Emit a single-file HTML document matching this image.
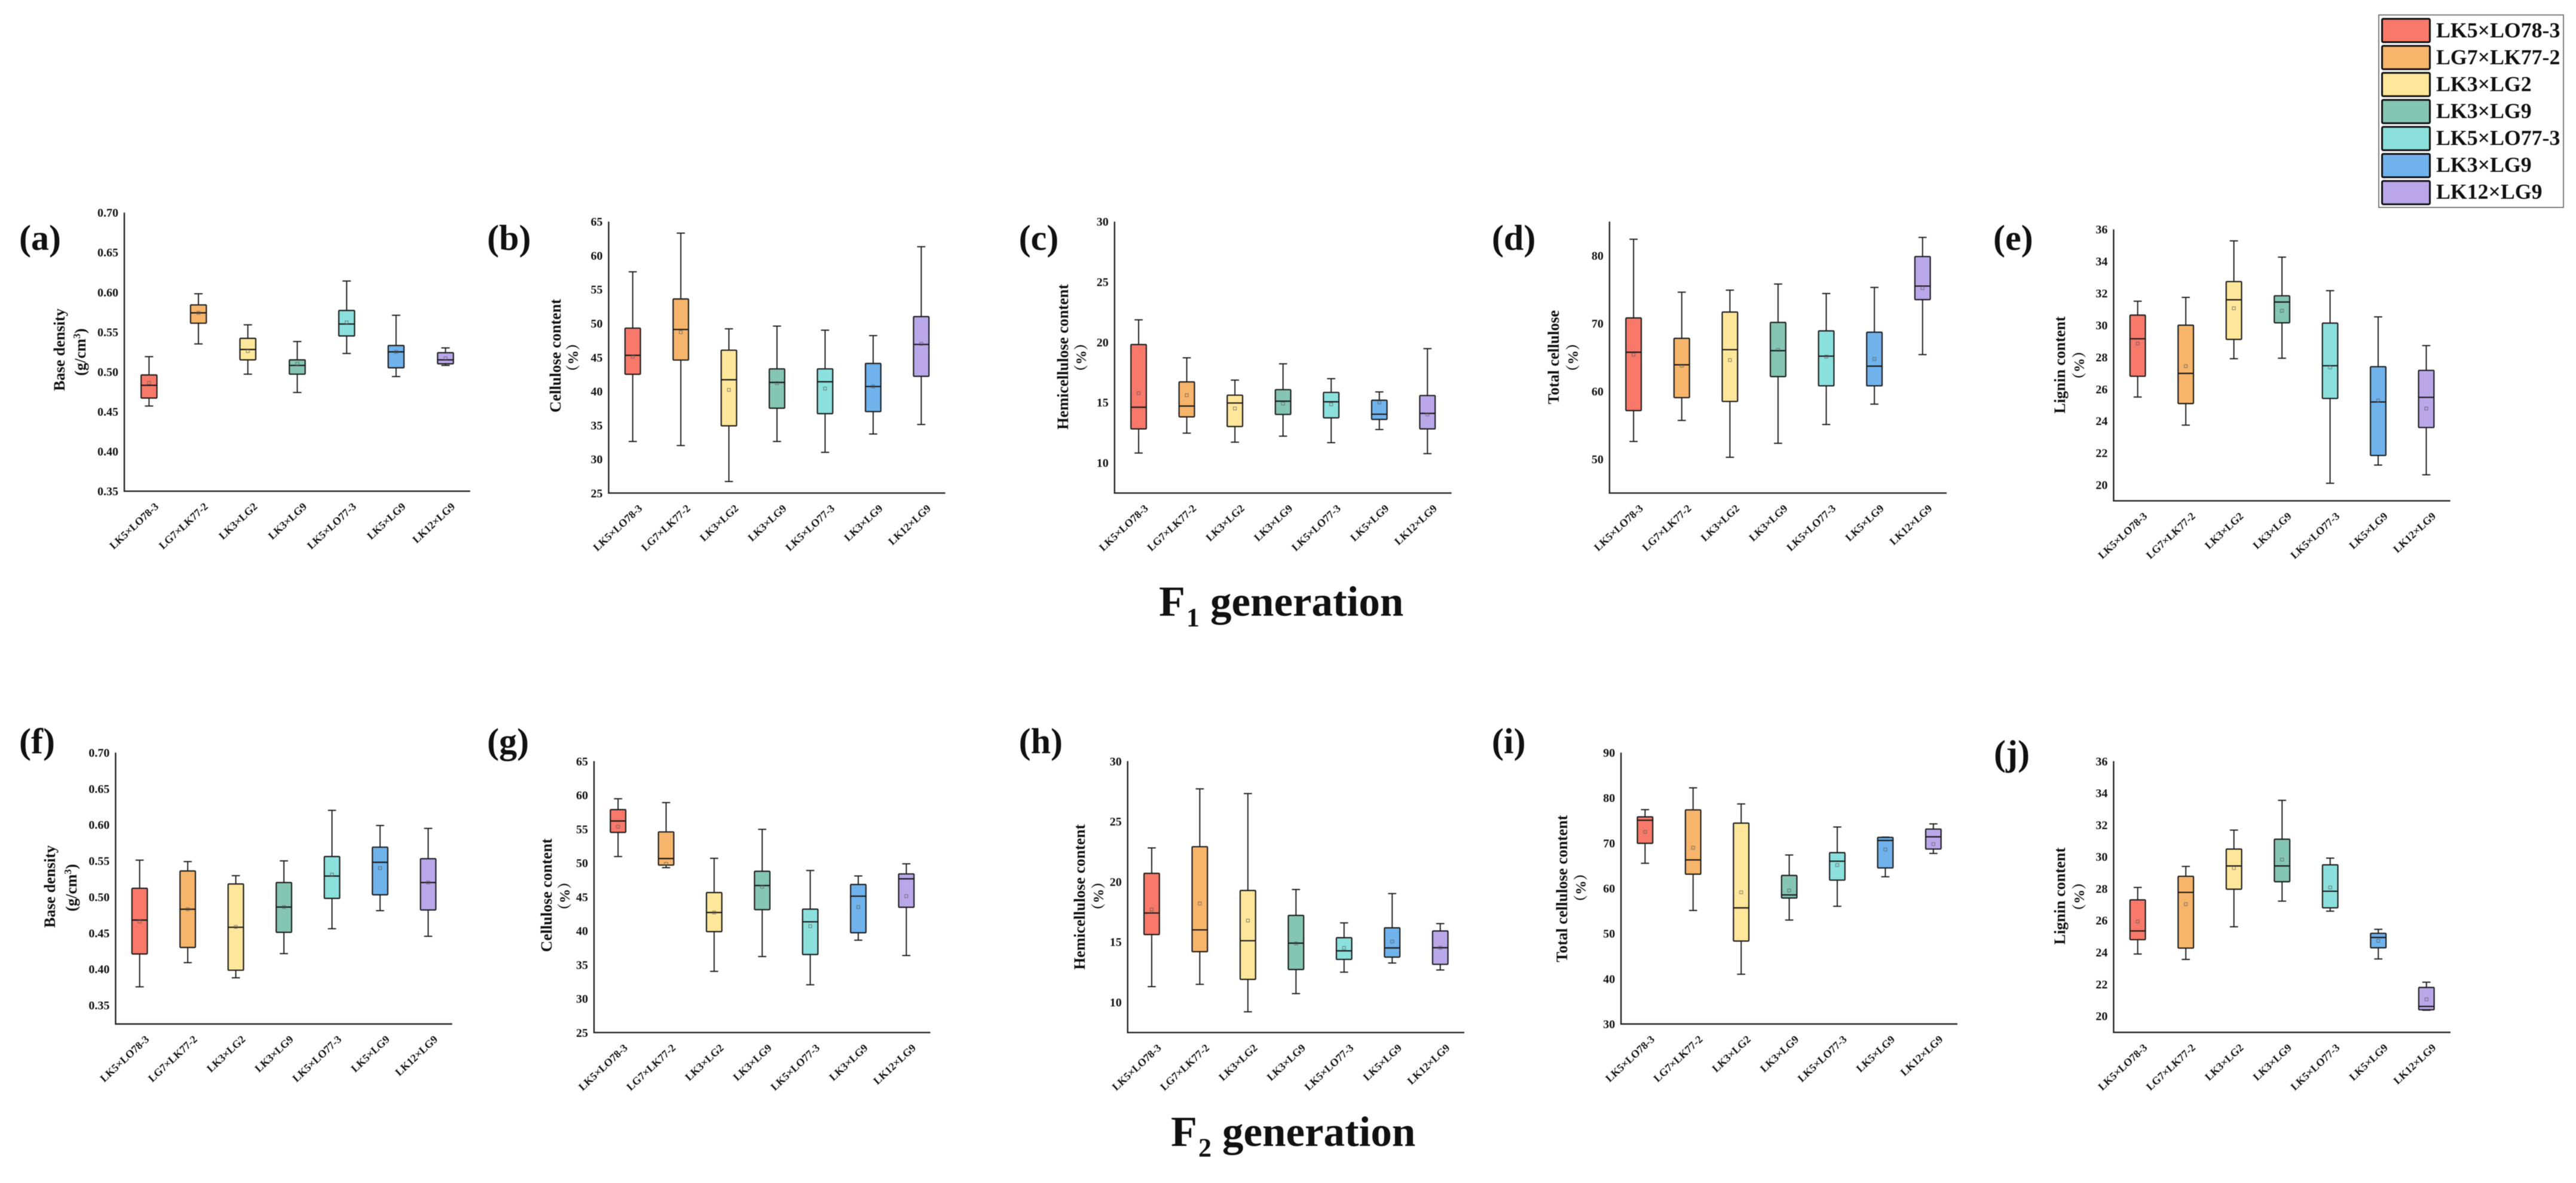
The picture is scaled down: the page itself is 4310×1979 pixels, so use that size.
<!DOCTYPE html>
<html lang="en">
<head>
<meta charset="utf-8">
<title>Wood property box plots of F1 and F2 generations</title>
<style>
html,body{margin:0;padding:0;background:#fff;}
svg{display:block;filter:blur(0.6px);}
text{font-family:"Liberation Serif","Noto Serif CJK SC",serif;font-weight:bold;fill:#111;}
</style>
</head>
<body>
<svg id="figure" xmlns="http://www.w3.org/2000/svg" width="4310" height="1979" viewBox="0 0 4310 1979">
  <rect x="0" y="0" width="4310" height="1979" fill="#ffffff"/>

  <text y="1030" font-size="72"><tspan x="1939">F</tspan><tspan x="1985" y="1047.5" font-size="44">1</tspan><tspan x="2025" y="1030" font-size="71">generation</tspan></text>
  <text y="1917" font-size="72"><tspan x="1959">F</tspan><tspan x="2005" y="1934.5" font-size="44">2</tspan><tspan x="2045" y="1917" font-size="71">generation</tspan></text>

  <g>
    <rect x="3980" y="25" width="309" height="322" fill="#fff" stroke="#555" stroke-width="1.5"/>
    <g><rect x="3985.5" y="31.5" width="80" height="39" rx="2" fill="#F8796A" stroke="#111" stroke-width="3"/><text x="4076" y="62.5" font-size="35.8">LK5×LO78-3</text></g>
    <g><rect x="3985.5" y="76.7" width="80" height="39" rx="2" fill="#F6B56A" stroke="#111" stroke-width="3"/><text x="4076" y="107.5" font-size="35.8">LG7×LK77-2</text></g>
    <g><rect x="3985.5" y="121.9" width="80" height="39" rx="2" fill="#FEE79A" stroke="#111" stroke-width="3"/><text x="4076" y="152.5" font-size="35.8">LK3×LG2</text></g>
    <g><rect x="3985.5" y="167.1" width="80" height="39" rx="2" fill="#84C6B3" stroke="#111" stroke-width="3"/><text x="4076" y="197.5" font-size="35.8">LK3×LG9</text></g>
    <g><rect x="3985.5" y="212.3" width="80" height="39" rx="2" fill="#8BDFDD" stroke="#111" stroke-width="3"/><text x="4076" y="242.5" font-size="35.8">LK5×LO77-3</text></g>
    <g><rect x="3985.5" y="257.5" width="80" height="39" rx="2" fill="#6FB2EC" stroke="#111" stroke-width="3"/><text x="4076" y="287.5" font-size="35.8">LK3×LG9</text></g>
    <g><rect x="3985.5" y="302.7" width="80" height="39" rx="2" fill="#BAA7EA" stroke="#111" stroke-width="3"/><text x="4076" y="332.5" font-size="35.8">LK12×LG9</text></g>
  </g>
</svg>

<script>
// Categories
const catsLK5 = ['LK5×LO78-3','LG7×LK77-2','LK3×LG2','LK3×LG9','LK5×LO77-3','LK5×LG9','LK12×LG9'];
const catsLK3 = ['LK5×LO78-3','LG7×LK77-2','LK3×LG2','LK3×LG9','LK5×LO77-3','LK3×LG9','LK12×LG9'];

// Tick labels
const ticksDensity = ['0.35','0.40','0.45','0.50','0.55','0.60','0.65','0.70'];
const ticksCellulose = ['25','30','35','40','45','50','55','60','65'];
const ticksHemi = ['10','15','20','25','30'];
const ticksTotalF1 = ['50','60','70','80'];
const ticksTotalF2 = ['30','40','50','60','70','80','90'];
const ticksLignin = ['20','22','24','26','28','30','32','34','36'];

// (a) F1 base density
const aHigh = [0.519,0.598,0.559,0.538,0.614,0.571,0.530];
const aQ3 = [0.496,0.584,0.542,0.515,0.577,0.533,0.524];
const aMedian = [0.483,0.574,0.528,0.508,0.560,0.525,0.515];
const aQ1 = [0.467,0.561,0.515,0.497,0.545,0.505,0.510];
const aLow = [0.457,0.535,0.497,0.474,0.523,0.494,0.508];
const aMean = [0.486,0.574,0.526,0.510,0.562,0.525,0.517];

// (b) F1 cellulose
const bHigh = [57.6,63.3,49.2,49.6,49.0,48.2,61.3];
const bQ3 = [49.3,53.6,46.05,43.3,43.3,44.1,51.0];
const bMedian = [45.3,49.1,41.7,41.3,41.4,40.7,46.9];
const bQ1 = [42.5,44.6,34.9,37.5,36.7,37.0,42.2];
const bLow = [32.6,32.0,26.7,32.6,31.0,33.7,35.1];
const bMean = [45.1,48.7,40.2,41.2,40.4,40.7,47.0];

// (c) F1 hemicellulose
const cHigh = [21.85,18.7,16.85,18.2,16.97,15.87,19.46];
const cQ3 = [19.8,16.7,15.6,16.06,15.83,15.18,15.57];
const cMedian = [14.6,14.7,14.95,15.1,15.05,14.02,14.09];
const cQ1 = [12.8,13.8,13.0,14.0,13.72,13.59,12.8];
const cLow = [10.8,12.45,11.7,12.2,11.66,12.75,10.75];
const cMean = [15.76,15.6,14.5,14.9,14.84,15.0,14.0];

// (d) F1 total cellulose
const dHigh = [82.4,74.6,74.9,75.8,74.4,75.3,82.67];
const dQ3 = [70.8,67.8,71.67,70.14,68.9,68.7,79.85];
const dMedian = [65.75,63.9,66.13,65.98,65.17,63.7,75.5];
const dQ1 = [57.15,59.06,58.5,62.16,60.8,60.8,73.5];
const dLow = [52.6,55.7,50.27,52.33,55.1,58.1,65.4];
const dMean = [65.4,63.76,64.6,66.1,65.1,64.75,75.2];

// (e) F1 lignin
const eHigh = [31.5,31.74,35.28,34.26,32.16,30.52,28.72];
const eQ3 = [30.63,30.0,32.73,31.84,30.13,27.4,27.17];
const eMedian = [29.15,26.98,31.59,31.45,27.46,25.19,25.48];
const eQ1 = [26.8,25.09,29.11,30.15,25.41,21.84,23.59];
const eLow = [25.5,23.74,27.9,27.93,20.1,21.24,20.63];
const eMean = [28.85,27.43,31.06,30.9,27.35,25.28,24.78];

// (f) F2 base density
const fHigh = [0.551,0.549,0.5295,0.550,0.620,0.599,0.595];
const fQ3 = [0.512,0.536,0.518,0.520,0.556,0.569,0.553];
const fMedian = [0.468,0.483,0.458,0.486,0.529,0.548,0.520];
const fQ1 = [0.421,0.430,0.3985,0.451,0.498,0.503,0.482];
const fLow = [0.3755,0.409,0.388,0.4215,0.456,0.481,0.4455];
const fMean = [0.466,0.483,0.4585,0.486,0.531,0.540,0.520];

// (g) F2 cellulose
const gHigh = [59.46,58.89,50.68,54.95,48.88,48.08,49.87];
const gQ3 = [57.86,54.57,45.63,48.77,43.19,46.82,48.38];
const gMedian = [56.18,50.64,42.69,46.67,41.32,45.1,47.66];
const gQ1 = [54.5,49.68,39.87,43.11,36.5,39.71,43.46];
const gLow = [50.94,49.3,34.02,36.2,32.04,38.61,36.35];
const gMean = [55.34,49.87,42.69,46.47,40.67,43.5,45.1];

// (h) F2 hemicellulose
const hHigh = [22.8,27.7,27.31,19.35,16.58,19.01,16.52];
const hQ3 = [20.69,22.9,19.27,17.2,15.35,16.17,15.91];
const hMedian = [17.4,16.0,15.1,14.9,14.26,14.5,14.52];
const hQ1 = [15.61,14.19,11.89,12.71,13.55,13.74,13.14];
const hLow = [11.29,11.48,9.2,10.71,12.49,13.25,12.67];
const hMean = [17.68,18.19,16.77,14.88,14.5,15.03,14.52];

// (i) F2 total cellulose
const iHigh = [77.39,82.21,78.65,67.36,73.55,71.32,74.24];
const iQ3 = [75.79,77.34,74.41,62.84,67.88,71.26,73.09];
const iMedian = [75.04,66.28,55.67,58.54,65.99,70.57,71.38];
const iQ1 = [69.94,63.12,48.34,57.85,61.81,64.5,68.68];
const iLow = [65.53,55.1,41.0,52.98,56.02,62.55,67.71];
const iMean = [72.46,68.97,59.11,59.51,65.13,68.57,69.77];

// (j) F2 lignin
const jHigh = [28.07,29.39,31.67,33.54,29.91,25.44,22.12];
const jQ3 = [27.29,28.77,30.48,31.1,29.49,25.19,21.79];
const jMedian = [25.34,27.76,29.42,29.42,27.83,24.93,20.6];
const jQ1 = [24.79,24.26,27.96,28.43,26.79,24.28,20.39];
const jLow = [23.89,23.55,25.6,27.21,26.58,23.58,20.36];
const jMean = [25.93,27.02,29.29,29.82,28.07,24.72,21.04];

const fillColors = ['#F8796A','#F6B56A','#FEE79A','#84C6B3','#8BDFDD','#6FB2EC','#BAA7EA'];

const panels = [
  {id:'a',label:'(a)',lx:32,ly:418,x0:208,x1:786.7,yTop:355.6,yBot:821.7,dMin:0.35,dMax:0.70,title:'Base density',unit:'density',tx:100,ty:585,ux:135,uy:589,cats:catsLK5,ticks:ticksDensity,high:aHigh,q3:aQ3,med:aMedian,q1:aQ1,low:aLow,mean:aMean},
  {id:'b',label:'(b)',lx:815,ly:418,x0:1018.4,x1:1581.6,yTop:370.7,yBot:824.8,dMin:25,dMax:65,title:'Cellulose content',unit:'pct',tx:930,ty:595,ux:959,uy:598,cats:catsLK3,ticks:ticksCellulose,high:bHigh,q3:bQ3,med:bMedian,q1:bQ1,low:bLow,mean:bMean},
  {id:'c',label:'(c)',lx:1704.6,ly:418,x0:1864.8,x1:2428.6,yTop:370.7,yBot:824.8,dMin:7.48,dMax:30,title:'Hemicellulose content',unit:'pct',tx:1779,ty:597,ux:1809,uy:598,cats:catsLK5,ticks:ticksHemi,high:cHigh,q3:cQ3,med:cMedian,q1:cQ1,low:cLow,mean:cMean},
  {id:'d',label:'(d)',lx:2496,ly:418,x0:2692.9,x1:3257,yTop:370.7,yBot:824.8,dMin:45,dMax:85,title:'Total cellulose',unit:'pct',tx:2600,ty:597.5,ux:2632,uy:598,cats:catsLK5,ticks:ticksTotalF1,high:dHigh,q3:dQ3,med:dMedian,q1:dQ1,low:dLow,mean:dMean},
  {id:'e',label:'(e)',lx:3335,ly:418,x0:3536.4,x1:4099.7,yTop:383.7,yBot:837.8,dMin:19,dMax:36,title:'Lignin content',unit:'pct',tx:3447,ty:610.5,ux:3479,uy:611,cats:catsLK5,ticks:ticksLignin,high:eHigh,q3:eQ3,med:eMedian,q1:eQ1,low:eLow,mean:eMean},
  {id:'f',label:'(f)',lx:32,ly:1260,x0:193.4,x1:756.6,yTop:1259,yBot:1713,dMin:0.324,dMax:0.70,title:'Base density',unit:'density',tx:84,ty:1483,ux:120,uy:1485,cats:catsLK5,ticks:ticksDensity,high:fHigh,q3:fQ3,med:fMedian,q1:fQ1,low:fLow,mean:fMean},
  {id:'g',label:'(g)',lx:815,ly:1260,x0:993.9,x1:1556.6,yTop:1273.3,yBot:1727.3,dMin:25,dMax:65,title:'Cellulose content',unit:'pct',tx:915,ty:1497.5,ux:945,uy:1499,cats:catsLK3,ticks:ticksCellulose,high:gHigh,q3:gQ3,med:gMedian,q1:gQ1,low:gLow,mean:gMean},
  {id:'h',label:'(h)',lx:1704.6,ly:1260,x0:1886.7,x1:2450,yTop:1273.3,yBot:1727.3,dMin:7.48,dMax:30,title:'Hemicellulose content',unit:'pct',tx:1807,ty:1500.5,ux:1838,uy:1499,cats:catsLK5,ticks:ticksHemi,high:hHigh,q3:hQ3,med:hMedian,q1:hQ1,low:hLow,mean:hMean},
  {id:'i',label:'(i)',lx:2496,ly:1260,x0:2712.2,x1:3275,yTop:1259,yBot:1713,dMin:30,dMax:90,title:'Total cellulose content',unit:'pct',tx:2614,ty:1486.6,ux:2645,uy:1485,cats:catsLK5,ticks:ticksTotalF2,high:iHigh,q3:iQ3,med:iMedian,q1:iQ1,low:iLow,mean:iMean},
  {id:'j',label:'(j)',lx:3336,ly:1280,x0:3536.4,x1:4100,yTop:1273.3,yBot:1727,dMin:18.97,dMax:36,title:'Lignin content',unit:'pct',tx:3447,ty:1499,ux:3479,uy:1500,cats:catsLK5,ticks:ticksLignin,high:jHigh,q3:jQ3,med:jMedian,q1:jQ1,low:jLow,mean:jMean}
];

const SVGNS = 'http://www.w3.org/2000/svg';
const root = document.getElementById('figure');

function mk(tag, attrs, parent) {
  const el = document.createElementNS(SVGNS, tag);
  for (const k in attrs) el.setAttribute(k, attrs[k]);
  parent.appendChild(el);
  return el;
}

function drawPanel(p) {
  const g = mk('g', {}, root);
  
  

  const yScale = v => p.yBot - (v - p.dMin) / (p.dMax - p.dMin) * (p.yBot - p.yTop);
  const band = (p.x1 - p.x0) / p.cats.length;
  const xScale = i => p.x0 + band * (i + 0.5);
  const boxW = band * 0.32;
  const capW = band * 0.17;

  const lab = mk('text', {x: p.lx, y: p.ly, 'font-size': 60}, g);
  
  
  lab.textContent = p.label;

  p.ticks.forEach(t => {
    const tk = mk('text', {x: p.x0 - 10, y: yScale(parseFloat(t)) + 7, 'font-size': 20, 'text-anchor': 'end'}, g);
    
    
    tk.textContent = t;
  });

  const yAxis = mk('line', {x1: p.x0, x2: p.x0, y1: p.yTop, y2: p.yBot + 1, stroke: '#222', 'stroke-width': 2.4}, g);
  
  
  const xAxis = mk('line', {x1: p.x0 - 1, x2: p.x1, y1: p.yBot, y2: p.yBot, stroke: '#222', 'stroke-width': 2.4}, g);
  
  

  const title = mk('text', {transform: 'translate(' + (p.tx + 8) + ',' + p.ty + ') rotate(-90)', 'font-size': 26, 'text-anchor': 'middle'}, g);
  
  
  title.textContent = p.title;

  const unit = mk('text', {transform: 'translate(' + (p.ux + 8) + ',' + p.uy + ') rotate(-90)', 'font-size': p.unit === 'density' ? 26 : 24, 'text-anchor': 'middle'}, g);
  
  
  if (p.unit === 'density') {
    unit.textContent = '(g/cm';
    const sup = mk('tspan', {dy: -9, 'font-size': 17}, unit);
    sup.textContent = '3';
    const close = mk('tspan', {dy: 9}, unit);
    close.textContent = ')';
  } else {
    unit.textContent = '（%）';
  }

  p.cats.forEach((c, i) => {
    const cx = xScale(i);
    const box = mk('g', {}, g);
    
    

    const stem = mk('line', {x1: cx, x2: cx, y1: yScale(p.high[i]), y2: yScale(p.low[i]), stroke: '#222', 'stroke-width': 2}, box);
    
    

    const capTop = mk('line', {x1: cx - capW / 2, x2: cx + capW / 2, y1: yScale(p.high[i]), y2: yScale(p.high[i]), stroke: '#222', 'stroke-width': 2}, box);
    
    

    const capBot = mk('line', {x1: cx - capW / 2, x2: cx + capW / 2, y1: yScale(p.low[i]), y2: yScale(p.low[i]), stroke: '#222', 'stroke-width': 2}, box);
    
    

    const rect = mk('rect', {x: cx - boxW / 2, y: yScale(p.q3[i]), width: boxW, height: yScale(p.q1[i]) - yScale(p.q3[i]), rx: 1.2, fill: fillColors[i], stroke: '#222', 'stroke-width': 2.2}, box);
    
    

    const med = mk('line', {x1: cx - boxW / 2, x2: cx + boxW / 2, y1: yScale(p.med[i]), y2: yScale(p.med[i]), stroke: '#1a1a1a', 'stroke-width': 2.2}, box);
    
    

    const mean = mk('rect', {x: cx - 2.5, y: yScale(p.mean[i]) - 2.5, width: 5, height: 5, fill: 'none', stroke: '#555', 'stroke-width': 1, opacity: 0.75}, box);
    
    

    const tl = mk('text', {transform: 'translate(' + (cx + 17) + ',' + (p.yBot + 27) + ') rotate(-43)', 'font-size': 18, 'text-anchor': 'end'}, g);
    
    
    tl.textContent = c;
  });
}

panels.forEach(drawPanel);
</script>
</body>
</html>
